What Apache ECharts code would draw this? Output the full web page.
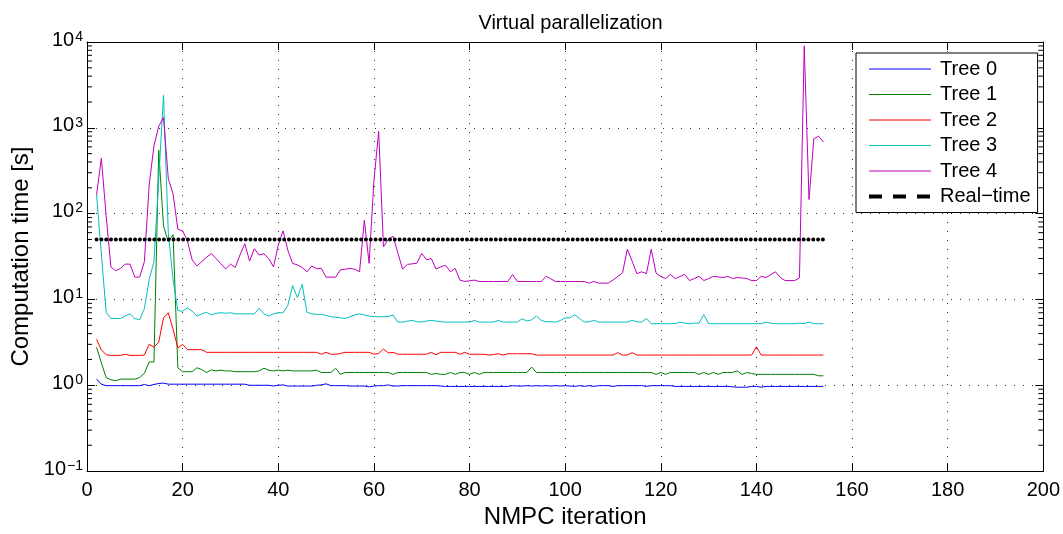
<!DOCTYPE html>
<html>
<head>
<meta charset="utf-8">
<script src="https://cdn.jsdelivr.net/npm/echarts@6/dist/echarts.min.js"></script>
<style>
  html, body { margin: 0; padding: 0; background: #fff; }
  #chart { width: 1063px; height: 534px; }
</style>
</head>
<body>
<div id="chart"></div>
<script>
// Computation time per NMPC iteration for each tree (seconds), iterations 2..154
const firstIteration = 2;

const tree0 = [
  1.18, 1.03, 0.99, 0.99, 0.99, 0.99, 0.99, 0.99, 0.99, 0.99,
  1.02, 0.99, 1.02, 1.05, 1.06, 1.03, 1.03, 1.03, 1.03, 1.03,
  1.03, 1.03, 1.03, 1.03, 1.03, 1.03, 1.03, 1.03, 1.03, 1.03,
  1.03, 1.03, 1.0, 1.0, 1.0, 1.0, 1.0, 0.98, 1.0, 1.01,
  0.98, 0.98, 0.98, 0.98, 0.98, 0.98, 1.0, 1.01, 1.04, 0.99,
  0.99, 0.99, 0.99, 0.98, 0.98, 0.98, 0.98, 0.96, 0.98, 0.99,
  0.99, 1.01, 0.98, 0.98, 0.99, 0.99, 0.99, 0.99, 0.99, 0.99,
  0.99, 0.99, 0.98, 0.97, 0.97, 0.97, 0.97, 0.97, 0.97, 0.97,
  0.97, 0.97, 0.97, 0.97, 0.97, 0.97, 0.97, 0.99, 0.98, 0.98,
  0.99, 0.98, 0.99, 0.98, 0.99, 0.98, 0.99, 0.98, 0.99, 0.98,
  0.97, 0.99, 0.97, 0.99, 0.97, 0.99, 0.99, 0.99, 0.97, 0.99,
  0.99, 0.99, 0.99, 0.99, 0.99, 0.97, 0.99, 0.99, 0.99, 0.99,
  0.99, 0.97, 0.97, 0.97, 0.97, 0.97, 0.97, 0.97, 0.97, 0.97,
  0.97, 0.97, 0.97, 0.96, 0.95, 0.95, 0.95, 0.97, 0.97, 0.95,
  0.97, 0.97, 0.97, 0.97, 0.97, 0.97, 0.97, 0.97, 0.97, 0.97,
  0.97, 0.97, 0.97
];

const tree1 = [
  2.78, 1.83, 1.23, 1.16, 1.13, 1.18, 1.18, 1.18, 1.18, 1.23,
  1.38, 1.87, 1.87, 548, 72, 47, 57, 1.6, 1.44, 1.44,
  1.44, 1.6, 1.52, 1.41, 1.51, 1.47, 1.5, 1.47, 1.47, 1.44,
  1.44, 1.44, 1.44, 1.44, 1.47, 1.58, 1.5, 1.47, 1.5, 1.47,
  1.5, 1.47, 1.47, 1.47, 1.47, 1.47, 1.5, 1.41, 1.41, 1.41,
  1.58, 1.34, 1.41, 1.41, 1.41, 1.41, 1.41, 1.41, 1.41, 1.41,
  1.41, 1.41, 1.34, 1.41, 1.41, 1.41, 1.41, 1.41, 1.41, 1.41,
  1.34, 1.37, 1.34, 1.34, 1.41, 1.34, 1.41, 1.41, 1.34, 1.41,
  1.34, 1.41, 1.41, 1.41, 1.41, 1.41, 1.41, 1.41, 1.41, 1.41,
  1.41, 1.63, 1.41, 1.41, 1.41, 1.41, 1.41, 1.41, 1.41, 1.41,
  1.41, 1.41, 1.41, 1.41, 1.41, 1.41, 1.41, 1.41, 1.41, 1.41,
  1.41, 1.41, 1.41, 1.41, 1.41, 1.41, 1.41, 1.34, 1.41, 1.34,
  1.41, 1.41, 1.41, 1.41, 1.41, 1.41, 1.34, 1.41, 1.34, 1.41,
  1.34, 1.41, 1.41, 1.41, 1.47, 1.34, 1.41, 1.37, 1.34, 1.34,
  1.34, 1.34, 1.34, 1.34, 1.34, 1.34, 1.34, 1.34, 1.34, 1.34,
  1.34, 1.29, 1.29
];

const tree2 = [
  3.43, 2.59, 2.27, 2.23, 2.23, 2.23, 2.3, 2.23, 2.23, 2.23,
  2.25, 3.0, 2.78, 3.18, 6.1, 7.0, 4.5, 2.72, 3.0, 2.6,
  2.6, 2.6, 2.6, 2.42, 2.42, 2.42, 2.42, 2.42, 2.42, 2.42,
  2.42, 2.42, 2.42, 2.42, 2.42, 2.42, 2.42, 2.42, 2.42, 2.42,
  2.42, 2.42, 2.42, 2.42, 2.42, 2.42, 2.42, 2.3, 2.42, 2.3,
  2.3, 2.35, 2.42, 2.42, 2.42, 2.42, 2.42, 2.42, 2.3, 2.35,
  2.65, 2.38, 2.42, 2.3, 2.3, 2.3, 2.3, 2.3, 2.3, 2.3,
  2.42, 2.27, 2.42, 2.42, 2.42, 2.42, 2.3, 2.42, 2.3, 2.3,
  2.3, 2.3, 2.25, 2.28, 2.33, 2.25, 2.33, 2.33, 2.33, 2.33,
  2.33, 2.33, 2.25, 2.25, 2.25, 2.25, 2.25, 2.25, 2.25, 2.25,
  2.25, 2.25, 2.25, 2.25, 2.25, 2.25, 2.25, 2.25, 2.25, 2.4,
  2.25, 2.25, 2.4, 2.25, 2.25, 2.25, 2.25, 2.25, 2.25, 2.25,
  2.25, 2.25, 2.25, 2.25, 2.25, 2.25, 2.25, 2.25, 2.25, 2.25,
  2.25, 2.25, 2.25, 2.25, 2.25, 2.25, 2.25, 2.25, 2.8, 2.25,
  2.25, 2.25, 2.25, 2.25, 2.25, 2.25, 2.25, 2.25, 2.25, 2.25,
  2.25, 2.25, 2.25
];

const tree3 = [
  166, 34, 7.1, 6.0, 6.0, 6.0, 6.4, 6.8, 6.0, 5.8,
  7.8, 17, 27.6, 250, 2400, 60, 17, 7.4, 7.3, 8.0,
  7.3, 6.4, 6.8, 7.1, 6.6, 6.9, 7.0, 6.9, 7.0, 6.8,
  6.8, 6.8, 6.8, 6.8, 7.9, 6.8, 6.4, 6.8, 7.0, 7.0,
  8.5, 14.5, 10.5, 15, 7.1, 6.8, 6.7, 6.7, 6.5, 6.3,
  6.2, 6.1, 6.0, 6.3, 6.6, 6.8, 6.6, 6.4, 6.3, 6.3,
  6.3, 6.3, 6.6, 5.45, 5.45, 5.6, 5.7, 5.5, 5.45, 5.6,
  5.7, 5.6, 5.5, 5.45, 5.45, 5.45, 5.45, 5.45, 5.45, 5.7,
  5.45, 5.45, 5.45, 5.45, 5.7, 5.45, 5.45, 5.45, 5.45, 5.96,
  5.6, 5.8, 6.4, 5.7, 5.5, 5.5, 5.45, 5.7, 6.1, 6.1,
  6.65, 6.0, 5.45, 5.5, 5.7, 5.45, 5.45, 5.45, 5.45, 5.45,
  5.45, 5.45, 5.7, 5.5, 5.45, 6.0, 5.22, 5.22, 5.22, 5.22,
  5.22, 5.22, 5.45, 5.3, 5.22, 5.3, 5.3, 6.65, 5.22, 5.22,
  5.22, 5.22, 5.22, 5.22, 5.22, 5.22, 5.22, 5.22, 5.22, 5.22,
  5.45, 5.3, 5.22, 5.22, 5.22, 5.22, 5.22, 5.3, 5.22, 5.45,
  5.22, 5.22, 5.22
];

const tree4 = [
  166, 442, 95, 24, 21.6, 23, 25.8, 25.8, 18.2, 18.2,
  27.6, 216, 616, 1040, 1320, 256, 170, 66, 63, 48,
  28.8, 24.6, 27.6, 31, 34.4, 30, 26, 22.7, 25.8, 23.6,
  33, 44.7, 28, 39, 33, 34, 30, 24, 43, 63,
  37.5, 26.3, 25.3, 23.6, 21, 24.5, 22.8, 23, 18.2, 18.2,
  18.2, 22.2, 22.5, 23, 22.5, 21, 84, 26.3, 240, 912,
  41, 50, 54.6, 35, 22.6, 25.6, 26, 26.5, 34.4, 29,
  30, 22.6, 24, 25, 21, 23, 16.8, 16.2, 16.5, 16.8,
  16.2, 16.2, 16.2, 16.2, 16.2, 16.2, 16.2, 19.5, 16.2, 16.2,
  16.2, 16.2, 16.2, 16.2, 18.6, 17.4, 16.2, 16.2, 16.2, 16.2,
  16.2, 16.2, 16.2, 15.5, 16.2, 15.5, 15.5, 15.5, 16.8, 18.5,
  20.4, 38.5, 28, 20, 21, 20, 38.5, 20.4, 18.5, 17.5,
  19.6, 17.5, 18.5, 19.6, 16.6, 17.5, 18.6, 16.6, 17.5, 18.6,
  18.3, 18, 18.6, 17.5, 18, 17.8, 17.5, 16.6, 16.6, 18.6,
  18, 19.5, 21, 18, 16.6, 16.6, 16.6, 17.8, 9000, 146,
  745, 800, 684
];

// Real-time budget (seconds) and the iteration span it is drawn over
const realTimeLimit = 50;
const realTimeSpan = [2, 154];

const seriesNames = ['Tree 0', 'Tree 1', 'Tree 2', 'Tree 3', 'Tree 4'];
const seriesColors = ['#0000ff', '#008000', '#ff0000', '#00bfbf', '#bf00bf'];
const realTimeName = 'Real\u2212time';

// Axis ranges and tick labels
const xTickValues = [0, 20, 40, 60, 80, 100, 120, 140, 160, 180, 200];
const yDecades = [0.1, 1, 10, 100, 1000, 10000];
const titleText = 'Virtual parallelization';
const xAxisTitle = 'NMPC iteration';
const yAxisTitle = 'Computation time [s]';

const iterations = tree0.map((_, i) => firstIteration + i);
const treeValues = [tree0, tree1, tree2, tree3, tree4];

// minor ticks of the log axis: 2..9 within each decade
const minorTickValues = [];
for (let d = 0; d < yDecades.length - 1; d++) {
  for (let m = 2; m <= 9; m++) minorTickValues.push(+(yDecades[d] * m).toPrecision(3));
}

const FONT = "'Liberation Sans', Arial, Helvetica, sans-serif";
const chart = echarts.init(document.getElementById('chart'), null, { renderer: 'canvas' });

const gridDots = { show: true, lineStyle: { color: '#333', width: 1, type: [1, 8] } };

const series = treeValues.map((vals, k) => ({
  name: seriesNames[k],
  type: 'line',
  data: vals.map((v, i) => [iterations[i], v]),
  symbol: 'none',
  lineStyle: { color: seriesColors[k], width: 1 },
  itemStyle: { color: seriesColors[k] },
  emphasis: { disabled: true },
  z: 3 + k
}));

series.push({
  name: realTimeName,
  type: 'line',
  data: realTimeSpan.map(x => [x, realTimeLimit]),
  symbol: 'none',
  lineStyle: { color: '#000', width: 4, type: [0.01, 4.8], cap: 'round' },
  itemStyle: { color: '#000' },
  emphasis: { disabled: true },
  z: 10
});

// minor tick marks on the left and right edges of the plot box
series.push({
  type: 'custom',
  silent: true,
  data: minorTickValues.map(v => [0, v]),
  encode: { x: 0, y: 1 },
  z: 20,
  clip: false,
  renderItem: (params, api) => {
    const y = api.coord([0, api.value(1)])[1];
    const cs = params.coordSys;
    return {
      type: 'group',
      children: [
        { type: 'line', shape: { x1: cs.x, y1: y, x2: cs.x + 5, y2: y }, style: { stroke: '#000', lineWidth: 1 } },
        { type: 'line', shape: { x1: cs.x + cs.width, y1: y, x2: cs.x + cs.width - 5, y2: y }, style: { stroke: '#000', lineWidth: 1 } }
      ]
    };
  }
});

const expLabel = v => {
  const e = Math.round(Math.log10(v));
  return '{b|10}{s|' + (e < 0 ? '\u2212' + (-e) : String(e)) + '}';
};

const option = {
  animation: false,
  backgroundColor: '#fff',
  textStyle: { fontFamily: FONT, color: '#000' },
  title: {
    text: titleText,
    left: 565.5,
    textAlign: 'center',
    top: 8,
    textStyle: { fontFamily: FONT, fontSize: 20, fontWeight: 'normal', color: '#000' }
  },
  grid: { left: 87, top: 42, width: 957, height: 439, containLabel: false },
  legend: {
    orient: 'vertical',
    left: 856,
    top: 53,
    padding: [6, 7, 6, 11],
    itemWidth: 62,
    itemHeight: 14,
    itemGap: 5.5,
    selectedMode: false,
    backgroundColor: '#fff',
    borderColor: '#000',
    borderWidth: 1,
    borderRadius: 0,
    itemStyle: { opacity: 0 },
    lineStyle: { width: 1 },
    textStyle: { fontFamily: FONT, fontSize: 20, color: '#000', padding: [0, 0, 0, 4] },
    data: seriesNames.map(n => ({ name: n })).concat([
      { name: realTimeName, lineStyle: { type: [13, 11], width: 4, color: '#000', cap: 'butt' } }
    ])
  },
  xAxis: [
    {
      type: 'value',
      min: xTickValues[0],
      max: xTickValues[xTickValues.length - 1],
      interval: xTickValues[1] - xTickValues[0],
      name: xAxisTitle,
      nameLocation: 'middle',
      nameGap: 30,
      nameTextStyle: { fontFamily: FONT, fontSize: 24, color: '#000' },
      axisLine: { show: true, onZero: false, lineStyle: { color: '#000', width: 1 } },
      axisTick: { show: true, inside: true, length: 8, lineStyle: { color: '#000' } },
      axisLabel: { fontFamily: FONT, fontSize: 20, color: '#000', margin: 9 },
      splitLine: gridDots
    },
    {
      type: 'value',
      position: 'top',
      min: xTickValues[0],
      max: xTickValues[xTickValues.length - 1],
      interval: xTickValues[1] - xTickValues[0],
      axisLine: { show: true, onZero: false, lineStyle: { color: '#000', width: 1 } },
      axisTick: { show: true, inside: true, length: 8, lineStyle: { color: '#000' } },
      axisLabel: { show: false },
      splitLine: { show: false }
    }
  ],
  yAxis: [
    {
      type: 'log',
      logBase: 10,
      min: yDecades[0],
      max: yDecades[yDecades.length - 1],
      splitNumber: yDecades.length - 1,
      name: yAxisTitle,
      nameLocation: 'middle',
      nameGap: 54,
      nameTextStyle: { fontFamily: FONT, fontSize: 24, color: '#000' },
      axisLine: { show: true, onZero: false, lineStyle: { color: '#000', width: 1 } },
      axisTick: { show: true, inside: true, length: 8, lineStyle: { color: '#000' } },
      axisLabel: {
        formatter: expLabel,
        margin: 4,
        padding: [0, 0, 4, 0],
        rich: {
          b: { fontFamily: FONT, fontSize: 20, lineHeight: 20, color: '#000', verticalAlign: 'bottom' },
          s: { fontFamily: FONT, fontSize: 14, lineHeight: 14, color: '#000', verticalAlign: 'top', padding: [0, 0, 8, 1] }
        }
      },
      splitLine: gridDots
    },
    {
      type: 'log',
      logBase: 10,
      position: 'right',
      min: yDecades[0],
      max: yDecades[yDecades.length - 1],
      splitNumber: yDecades.length - 1,
      axisLine: { show: true, onZero: false, lineStyle: { color: '#000', width: 1 } },
      axisTick: { show: true, inside: true, length: 8, lineStyle: { color: '#000' } },
      axisLabel: { show: false },
      splitLine: { show: false }
    }
  ],
  series: series
};

chart.setOption(option);
</script>
</body>
</html>
